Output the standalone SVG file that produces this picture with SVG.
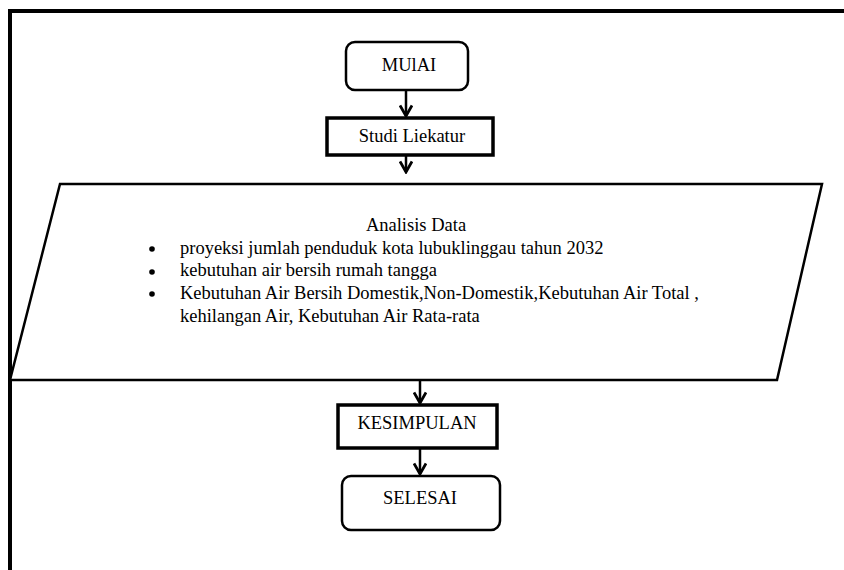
<svg xmlns="http://www.w3.org/2000/svg" width="844" height="570" viewBox="0 0 844 570">
<style>
text{font-family:"Liberation Serif","DejaVu Serif",serif;font-size:18.5px;fill:#000}
.c{text-anchor:middle}
.sh{fill:#fff;stroke:#000}
.ln{stroke:#000;stroke-width:2.5;fill:none}
</style>
<defs>
<marker id="ah" viewBox="0 0 14 14" refX="12.5" refY="7" markerWidth="14" markerHeight="14" markerUnits="userSpaceOnUse" orient="auto">
<path d="M2,1 L12.5,7 L2,13" fill="none" stroke="#000" stroke-width="2.8"/>
</marker>
</defs>
<rect width="844" height="570" fill="#fff"/>
<g id="frame"><path d="M10,570 V11 H844" fill="none" stroke="#000" stroke-width="4"/></g>
<g id="connectors">
<line class="ln" x1="406" y1="90" x2="406" y2="116" marker-end="url(#ah)"/>
<line class="ln" x1="406" y1="155" x2="406" y2="172" marker-end="url(#ah)"/>
<line class="ln" x1="420" y1="381" x2="420" y2="403" marker-end="url(#ah)"/>
<line class="ln" x1="420" y1="448" x2="420" y2="474" marker-end="url(#ah)"/>
</g>
<g id="mulai"><rect class="sh" x="346" y="42" width="122" height="48" rx="9" stroke-width="2.5"/><text class="c" x="409" y="71">MUlAI</text></g>
<g id="studi"><rect class="sh" x="327" y="118" width="166" height="37" stroke-width="3.5"/><text class="c" x="412" y="142">Studi Liekatur</text></g>
<g id="analisis"><polygon class="sh" points="60,184 822,184 777,380 10,380" stroke-width="2.5"/>
<text class="c" x="416" y="231">Analisis Data</text>
<circle cx="152" cy="249" r="2.8"/><text x="180" y="254">proyeksi jumlah penduduk kota lubuklinggau tahun 2032</text>
<circle cx="152" cy="272" r="2.8"/><text x="180" y="276">kebutuhan air bersih rumah tangga</text>
<circle cx="152" cy="294" r="2.8"/><text x="180" y="299">Kebutuhan Air Bersih Domestik,Non-Domestik,Kebutuhan Air Total ,</text>
<text x="180" y="322">kehilangan Air, Kebutuhan Air Rata-rata</text>
</g>
<g id="kesimpulan"><rect class="sh" x="338" y="405" width="159" height="43" stroke-width="3.5"/><text class="c" x="417" y="429">KESIMPULAN</text></g>
<g id="selesai"><rect class="sh" x="342" y="476" width="158" height="54" rx="9" stroke-width="2.5"/><text class="c" x="420" y="504">SELESAI</text></g>
</svg>
